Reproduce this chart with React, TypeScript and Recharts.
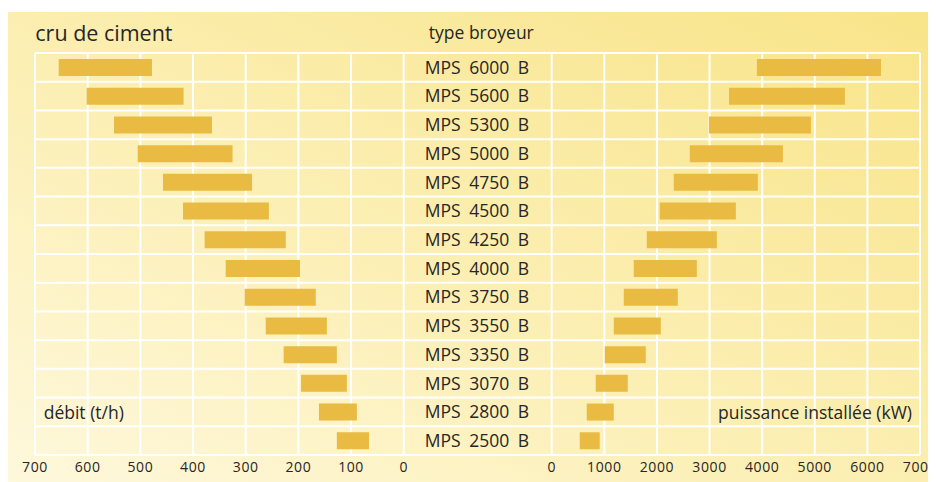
import React from "react"
import { BarChart, Bar, XAxis, YAxis, CartesianGrid } from "recharts"

// types de broyeur, du plus grand au plus petit
const types = [
	"MPS 6000 B",
	"MPS 5600 B",
	"MPS 5300 B",
	"MPS 5000 B",
	"MPS 4750 B",
	"MPS 4500 B",
	"MPS 4250 B",
	"MPS 4000 B",
	"MPS 3750 B",
	"MPS 3550 B",
	"MPS 3350 B",
	"MPS 3070 B",
	"MPS 2800 B",
	"MPS 2500 B"
]

// débit (t/h) : min / max
const debitMin = [478, 418, 364, 325, 288, 256, 224, 197, 167, 146, 127, 108, 89, 66]
const debitMax = [655, 602, 550, 505, 457, 419, 378, 338, 302, 262, 228, 195, 161, 127]

// puissance installée (kW) : min / max
const powerMin = [3900, 3370, 2990, 2625, 2320, 2054, 1807, 1560, 1370, 1180, 1008, 837, 666, 533]
const powerMax = [6258, 5573, 4927, 4394, 3918, 3500, 3139, 2758, 2397, 2073, 1788, 1446, 1180, 913]

const debitTicks = [0, 100, 200, 300, 400, 500, 600, 700]
const powerTicks = [0, 1000, 2000, 3000, 4000, 5000, 6000, 7000]

const W = 928
const H = 474
const FONT = "'Open Sans', sans-serif"
const TEXT = "#262626"
const BAR = "#e9bb42"

const data = types.map((name, i) => ({
	name,
	debit: [debitMin[i], debitMax[i]],
	power: [powerMin[i], powerMax[i]]
}))

// le graphique gauche et le droit partagent la même zone de tracé,
// chaque axe est étendu pour placer son 0 au bon endroit
const debitDomain = [-980, 700]
const powerDomain = [-9820, 7000]

const TypeTick = (props: any) => {
	const { y, payload } = props
	return (
		<text x={469} y={y} dy="0.36em" textAnchor="middle" fill={TEXT} fontFamily={FONT} fontSize={17.5} style={{ wordSpacing: 4 }}>
			{payload.value}
		</text>
	)
}

const rowLines = ({ offset }: any) => {
	const n = types.length
	const out: number[] = []
	for (let i = 0; i <= n; i++) out.push(offset.top + (offset.height * i) / n)
	return out
}

export default function App() {
	const tickStyle = { fill: TEXT, fontSize: 14, fontFamily: FONT, letterSpacing: 0.6 }
	return (
		<div style={{ position: "relative", width: W, height: H }}>
			<div
				style={{
					position: "absolute",
					left: 0,
					top: 4,
					width: W,
					height: H - 4,
					background: "linear-gradient(to top right, #fef8dc 0%, #fcf0b8 40%, #f8e488 100%)"
				}}
			/>
			<div style={{ position: "absolute", left: 0, top: 0 }}>
				<BarChart
					width={W}
					height={H}
					data={data}
					layout="vertical"
					margin={{ top: 45, right: 16, left: 26, bottom: 25 }}
					style={{ overflow: "visible" }}
				>
					<CartesianGrid xAxisId="left" yAxisId="left" stroke="#ffffff" strokeWidth={2} horizontalCoordinatesGenerator={rowLines} />
					<CartesianGrid xAxisId="right" yAxisId="right" stroke="#ffffff" strokeWidth={2} horizontal={false} />
					<XAxis
						xAxisId="left"
						type="number"
						domain={debitDomain}
						allowDataOverflow
						reversed
						ticks={debitTicks}
						interval={0}
						height={1}
						axisLine={false}
						tickLine={false}
						tickSize={0}
						tickMargin={7}
						tick={tickStyle}
					/>
					<XAxis
						xAxisId="right"
						type="number"
						domain={powerDomain}
						allowDataOverflow
						ticks={powerTicks}
						interval={0}
						height={1}
						axisLine={false}
						tickLine={false}
						tickSize={0}
						tickMargin={6}
						tick={tickStyle}
					/>
					<YAxis yAxisId="left" type="category" dataKey="name" width={1} axisLine={false} tickLine={false} interval={0} tick={<TypeTick />} />
					<YAxis yAxisId="right" type="category" dataKey="name" hide />
					<Bar xAxisId="left" yAxisId="left" dataKey="debit" fill={BAR} barSize={17} isAnimationActive={false} />
					<Bar xAxisId="right" yAxisId="right" dataKey="power" fill={BAR} barSize={17} isAnimationActive={false} />
				</BarChart>
			</div>
			<svg width={W} height={H} style={{ position: "absolute", left: 0, top: 0, pointerEvents: "none" }}>
				<text x={27.3} y={32.7} fill={TEXT} fontFamily={FONT} fontSize={21.5}>
					cru de ciment
				</text>
				<text x={473.3} y={31.3} textAnchor="middle" fill={TEXT} fontFamily={FONT} fontSize={17.5}>
					type broyeur
				</text>
				<text x={35.7} y={411} fill={TEXT} fontFamily={FONT} fontSize={17.5}>
					débit (t/h)
				</text>
				<text x={904} y={411} textAnchor="end" fill={TEXT} fontFamily={FONT} fontSize={17.5}>
					puissance installée (kW)
				</text>
			</svg>
		</div>
	)
}
